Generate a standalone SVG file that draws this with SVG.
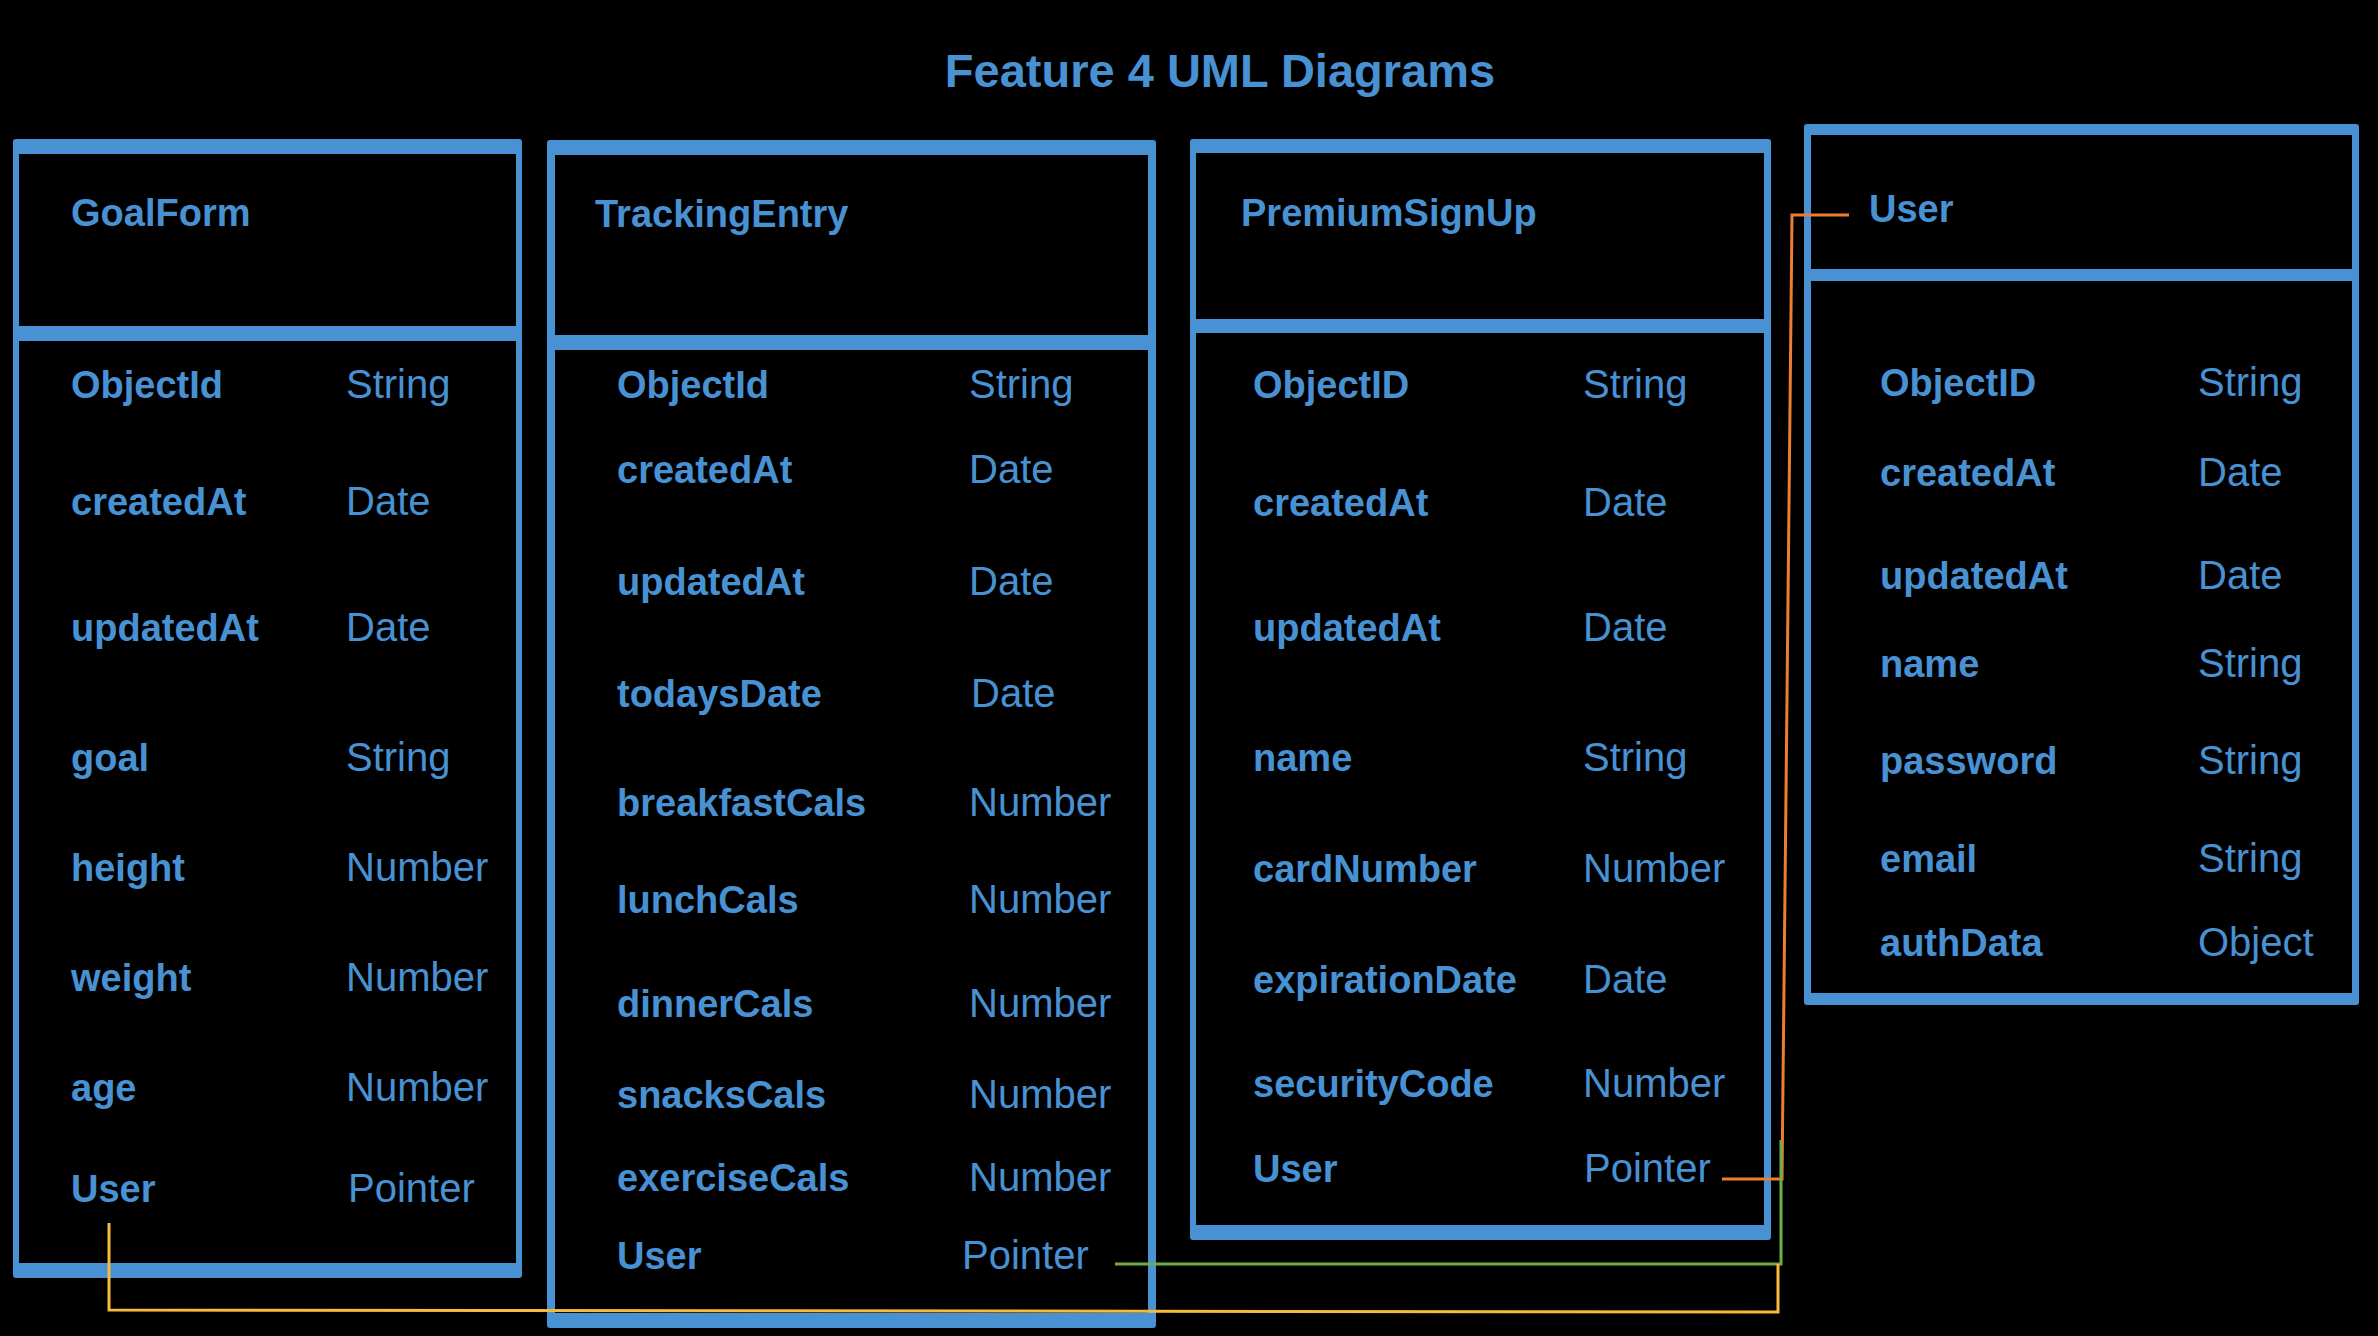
<svg xmlns="http://www.w3.org/2000/svg" width="2378" height="1336" viewBox="0 0 2378 1336">
<style>
  .frame { fill: #4891D2; }
  .hole { fill: #000000; }
  .title { font-family: "Liberation Sans", Arial, sans-serif; font-weight: bold; font-size: 47px; fill: #4891D2; }
  .cls { font-family: "Liberation Sans", Arial, sans-serif; font-weight: bold; font-size: 38px; fill: #4891D2; }
  .nm { font-family: "Liberation Sans", Arial, sans-serif; font-weight: bold; font-size: 38px; fill: #4891D2; }
  .ty { font-family: "Liberation Sans", Arial, sans-serif; font-weight: normal; font-size: 40px; fill: #4891D2; }
  .conn { fill: none; stroke-width: 3; stroke-linejoin: miter; }
</style>
<rect x="0" y="0" width="2378" height="1336" fill="#000000"/>
<text class="title" x="1220" y="87" text-anchor="middle">Feature 4 UML Diagrams</text>

<g id="GoalForm">
  <rect class="frame" x="13" y="139" width="509" height="1139" rx="3"/>
  <rect class="hole" x="19" y="154" width="497" height="172"/>
  <rect class="hole" x="19" y="341" width="497" height="922"/>
  <text class="cls" x="71" y="226">GoalForm</text>
  <text class="nm" x="71" y="398">ObjectId</text><text class="ty" x="346" y="398">String</text>
  <text class="nm" x="71" y="515">createdAt</text><text class="ty" x="346" y="515">Date</text>
  <text class="nm" x="71" y="641">updatedAt</text><text class="ty" x="346" y="641">Date</text>
  <text class="nm" x="71" y="771">goal</text><text class="ty" x="346" y="771">String</text>
  <text class="nm" x="71" y="881">height</text><text class="ty" x="346" y="881">Number</text>
  <text class="nm" x="71" y="991">weight</text><text class="ty" x="346" y="991">Number</text>
  <text class="nm" x="71" y="1101">age</text><text class="ty" x="346" y="1101">Number</text>
  <text class="nm" x="71" y="1202">User</text><text class="ty" x="348" y="1202">Pointer</text>
</g>

<g id="TrackingEntry">
  <rect class="frame" x="547" y="140" width="609" height="1188" rx="3"/>
  <rect class="hole" x="555" y="155" width="593" height="180"/>
  <rect class="hole" x="555" y="350" width="593" height="963"/>
  <text class="cls" x="595" y="227">TrackingEntry</text>
  <text class="nm" x="617" y="398">ObjectId</text><text class="ty" x="969" y="398">String</text>
  <text class="nm" x="617" y="483">createdAt</text><text class="ty" x="969" y="483">Date</text>
  <text class="nm" x="617" y="595">updatedAt</text><text class="ty" x="969" y="595">Date</text>
  <text class="nm" x="617" y="707">todaysDate</text><text class="ty" x="971" y="707">Date</text>
  <text class="nm" x="617" y="816">breakfastCals</text><text class="ty" x="969" y="816">Number</text>
  <text class="nm" x="617" y="913">lunchCals</text><text class="ty" x="969" y="913">Number</text>
  <text class="nm" x="617" y="1017">dinnerCals</text><text class="ty" x="969" y="1017">Number</text>
  <text class="nm" x="617" y="1108">snacksCals</text><text class="ty" x="969" y="1108">Number</text>
  <text class="nm" x="617" y="1191">exerciseCals</text><text class="ty" x="969" y="1191">Number</text>
  <text class="nm" x="617" y="1269">User</text><text class="ty" x="962" y="1269">Pointer</text>
</g>

<g id="PremiumSignUp">
  <rect class="frame" x="1190" y="139" width="581" height="1101" rx="3"/>
  <rect class="hole" x="1196" y="153" width="568" height="166"/>
  <rect class="hole" x="1196" y="333" width="568" height="892"/>
  <text class="cls" x="1241" y="226">PremiumSignUp</text>
  <text class="nm" x="1253" y="398">ObjectID</text><text class="ty" x="1583" y="398">String</text>
  <text class="nm" x="1253" y="516">createdAt</text><text class="ty" x="1583" y="516">Date</text>
  <text class="nm" x="1253" y="641">updatedAt</text><text class="ty" x="1583" y="641">Date</text>
  <text class="nm" x="1253" y="771">name</text><text class="ty" x="1583" y="771">String</text>
  <text class="nm" x="1253" y="882">cardNumber</text><text class="ty" x="1583" y="882">Number</text>
  <text class="nm" x="1253" y="993">expirationDate</text><text class="ty" x="1583" y="993">Date</text>
  <text class="nm" x="1253" y="1097">securityCode</text><text class="ty" x="1583" y="1097">Number</text>
  <text class="nm" x="1253" y="1182">User</text><text class="ty" x="1584" y="1182">Pointer</text>
</g>

<g id="User">
  <rect class="frame" x="1804" y="124" width="555" height="881" rx="3"/>
  <rect class="hole" x="1811" y="135" width="541" height="134"/>
  <rect class="hole" x="1811" y="281" width="541" height="712"/>
  <text class="cls" x="1869" y="222">User</text>
  <text class="nm" x="1880" y="396">ObjectID</text><text class="ty" x="2198" y="396">String</text>
  <text class="nm" x="1880" y="486">createdAt</text><text class="ty" x="2198" y="486">Date</text>
  <text class="nm" x="1880" y="589">updatedAt</text><text class="ty" x="2198" y="589">Date</text>
  <text class="nm" x="1880" y="677">name</text><text class="ty" x="2198" y="677">String</text>
  <text class="nm" x="1880" y="774">password</text><text class="ty" x="2198" y="774">String</text>
  <text class="nm" x="1880" y="872">email</text><text class="ty" x="2198" y="872">String</text>
  <text class="nm" x="1880" y="956">authData</text><text class="ty" x="2198" y="956">Object</text>
</g>

<g id="connectors">
  <polyline class="conn" stroke="#ED7D31" points="1849,215 1792,215 1782,1179 1722,1179"/>
  <polyline class="conn" stroke="#70AD47" points="1115,1264 1781,1264 1781,1140"/>
  <polyline class="conn" stroke="#F6BA3C" stroke-width="3.5" points="109,1223 109,1310 1778,1312 1778,1264"/>
</g>
</svg>
